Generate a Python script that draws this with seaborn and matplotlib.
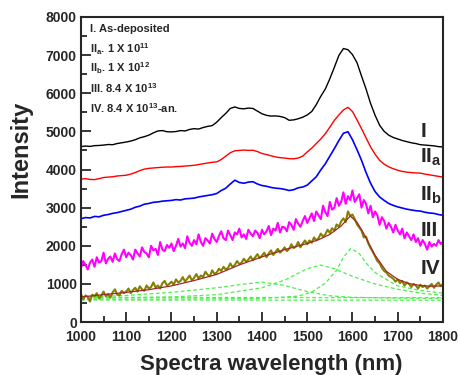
import numpy as np
import pandas as pd
import matplotlib
matplotlib.use("Agg")
import matplotlib.pyplot as plt
import seaborn as sns

# ── data ────────────────────────────────────────────────────────────────────
wl_10 = np.arange(1000, 1801, 10)   # 81 points
wl_5 = np.arange(1000, 1801, 5)     # 161 points

spec_I = [
    4600, 4615, 4605, 4625, 4630, 4640, 4655, 4650, 4680, 4700,
    4720, 4745, 4780, 4830, 4860, 4900, 4960, 5010, 5020, 4990,
    4985, 4995, 5020, 5010, 5050, 5070, 5060, 5100, 5130, 5150,
    5240, 5360, 5470, 5600, 5640, 5600, 5590, 5610, 5600, 5530,
    5460, 5420, 5400, 5405, 5390, 5360, 5290, 5300, 5330, 5370,
    5430, 5520, 5700, 5920, 6110, 6380, 6680, 6990, 7170, 7140,
    7010, 6800, 6450, 6110, 5730, 5420, 5160, 5000, 4900, 4840,
    4800, 4760, 4730, 4700, 4680, 4650, 4640, 4630, 4620, 4600,
    4590]

spec_IIa = [
    3750, 3760, 3740, 3735, 3760, 3790, 3800, 3810, 3830, 3840,
    3850, 3880, 3920, 3970, 4010, 4030, 4040, 4050, 4060, 4065,
    4065, 4075, 4080, 4090, 4100, 4110, 4130, 4150, 4170, 4190,
    4200, 4260, 4350, 4440, 4490, 4500, 4510, 4500, 4505, 4470,
    4420, 4390, 4360, 4330, 4310, 4300, 4285, 4280, 4300, 4350,
    4460, 4560, 4680, 4800, 4940, 5110, 5290, 5430, 5560, 5630,
    5520, 5300, 5070, 4830, 4590, 4400, 4240, 4140, 4070, 4020,
    3980, 3950, 3930, 3920, 3910, 3905, 3880, 3860, 3840, 3820,
    3800]

spec_IIb = [
    2710, 2740, 2730, 2770, 2760, 2800, 2820, 2850, 2870, 2900,
    2930, 2960, 3010, 3040, 3090, 3110, 3140, 3150, 3170, 3180,
    3190, 3210, 3200, 3230, 3240, 3250, 3280, 3300, 3320, 3340,
    3370, 3450, 3510, 3620, 3720, 3660, 3640, 3670, 3680, 3620,
    3580, 3560, 3530, 3510, 3500, 3480, 3450, 3470, 3520, 3540,
    3590, 3700, 3810, 3990, 4150, 4350, 4550, 4760, 4950, 4990,
    4780, 4520, 4240, 3920, 3640, 3420, 3280, 3190, 3110, 3060,
    3020, 2990, 2960, 2940, 2920, 2910, 2880, 2860, 2850, 2820,
    2800]

spec_III = [
    1420, 1600, 1500, 1380, 1560, 1640, 1450, 1700, 1560, 1600, 1820, 1540, 1660, 1720, 1580, 1800, 1650, 1600, 1780, 1900,
    1700, 1820, 1760, 1640, 1900, 1800, 1720, 1960, 1840, 1800, 1700, 2000, 1880, 1920, 1760, 2100, 1900, 1860, 2020, 1950,
    2060, 1860, 2000, 2180, 1980, 2060, 1940, 2250, 2080, 2000, 2150, 2040, 2300, 2100, 2000, 2200, 2140, 2060, 2320, 2180,
    2100, 2260, 2380, 2200, 2150, 2400, 2280, 2150, 2350, 2300, 2450, 2220, 2300, 2180, 2420, 2320, 2250, 2400, 2340, 2200,
    2420, 2300, 2380, 2520, 2280, 2450, 2400, 2600, 2350, 2500, 2480, 2380, 2620, 2550, 2420, 2700, 2580, 2500, 2650, 2780,
    2600, 2720, 2850, 2650, 2900, 2800, 2700, 3050, 2880, 2780, 3150, 2950, 3000, 3250, 3050, 3150, 3400, 3100, 3300, 3200,
    3450, 3150, 3250, 3350, 3000, 3200, 3100, 2850, 3050, 2750, 2900, 2800, 2550, 2750, 2650, 2450, 2600, 2500, 2350, 2550,
    2400, 2300, 2450, 2200, 2350, 2250, 2150, 2300, 2100, 2200, 2000, 2150, 2050, 1900, 2100, 1980, 2050, 2000, 2150, 2050,
    2100]

spec_IV = [
    740, 600, 700, 660, 540, 720, 680, 760, 620, 700, 800, 680, 740, 640, 780, 860, 720, 700, 820, 760,
    800, 880, 760, 840, 900, 800, 940, 860, 820, 960, 880, 920, 1040, 900, 960, 880, 1020, 1080, 960, 1000,
    1060, 980, 1120, 1040, 1080, 1180, 1060, 1140, 1220, 1100, 1160, 1260, 1140, 1220, 1180, 1320, 1240, 1200, 1360, 1260,
    1300, 1400, 1340, 1450, 1380, 1420, 1540, 1440, 1500, 1600, 1520, 1560, 1660, 1580, 1640, 1720, 1620, 1700, 1780, 1680,
    1740, 1820, 1700, 1800, 1880, 1760, 1840, 1920, 1820, 1880, 1960, 1860, 1920, 2040, 1940, 1980, 2100, 1960, 2060, 2140,
    2040, 2140, 2080, 2220, 2140, 2200, 2320, 2240, 2300, 2420, 2340, 2460, 2400, 2560, 2500, 2640, 2720, 2620, 2900, 2780,
    2820, 2700, 2560, 2480, 2400, 2220, 2240, 2060, 1940, 1840, 1720, 1600, 1540, 1420, 1340, 1300, 1220, 1180, 1140, 1060,
    1120, 1020, 1080, 960, 1040, 1000, 920, 1000, 960, 880, 980, 920, 960, 880, 940, 1000, 900, 980, 1040, 940,
    1000]

# smooth fit through spectrum IV
fit_x = [1000, 1050, 1100, 1150, 1200, 1250, 1300, 1350, 1400, 1450, 1500, 1525,
         1550, 1575, 1595, 1610, 1625, 1650, 1675, 1700, 1725, 1750, 1775, 1800]
fit_y = [660, 720, 780, 850, 950, 1090, 1250, 1500, 1710, 1900, 2060, 2160,
         2300, 2520, 2780, 2620, 2320, 1750, 1330, 1120, 1010, 960, 940, 950]

# deconvolved components (green dashed)
compA_x = [1000, 1200, 1400, 1480, 1510, 1540, 1565, 1580, 1596, 1615, 1630, 1650, 1670, 1700, 1750, 1800]
compA_y = [600, 605, 620, 680, 790, 1020, 1360, 1700, 1930, 1800, 1550, 1300, 1150, 950, 830, 760]
compB_x = [1000, 1200, 1300, 1400, 1450, 1500, 1530, 1560, 1600, 1650, 1700, 1750, 1800]
compB_y = [620, 660, 720, 900, 1100, 1400, 1495, 1400, 1200, 1000, 860, 760, 700]
compC_x = [1000, 1100, 1200, 1300, 1350, 1400, 1450, 1500, 1550, 1600, 1700, 1800]
compC_y = [650, 700, 780, 900, 980, 1050, 960, 800, 690, 650, 630, 620]
base1_x = [1000, 1400, 1800]
base1_y = [650, 645, 640]
base2_x = [1000, 1400, 1800]
base2_y = [580, 578, 575]

legend_lines = ["I. As-deposited",
                "II$_{a}$. 1 X 10$^{11}$",
                "II$_{b}$. 1 X 10$^{12}$",
                "III. 8.4 X 10$^{13}$",
                "IV. 8.4 X 10$^{13}$-an."]
curve_labels = ["I", "II$_{a}$", "II$_{b}$", "III", "IV"]
label_y = [5000, 4330, 3330, 2410, 1410]

# ── style ───────────────────────────────────────────────────────────────────
sns.set_style("ticks")
plt.rcParams["font.family"] = ["Liberation Sans", "DejaVu Sans"]
plt.rcParams["font.weight"] = "bold"
plt.rcParams["mathtext.fontset"] = "custom"
plt.rcParams["mathtext.rm"] = "Liberation Sans:bold"
plt.rcParams["mathtext.it"] = "Liberation Sans:bold"
plt.rcParams["mathtext.bf"] = "Liberation Sans:bold"

fig = plt.figure(figsize=(4.6, 3.75), dpi=100)
ax = fig.add_axes([0.176, 0.141, 0.787, 0.814])

green = "#4cf04c"
for cx, cy in [(compA_x, compA_y), (compB_x, compB_y), (compC_x, compC_y),
               (base1_x, base1_y), (base2_x, base2_y)]:
    sns.lineplot(x=cx, y=cy, ax=ax, color=green, lw=0.9, linestyle=(0, (3, 2)))

sns.lineplot(x=wl_10, y=spec_I, ax=ax, color="black", lw=1.0)
sns.lineplot(x=wl_10, y=spec_IIa, ax=ax, color="red", lw=1.0)
sns.lineplot(x=wl_10, y=spec_IIb, ax=ax, color="blue", lw=1.2)
sns.lineplot(x=wl_5, y=spec_III, ax=ax, color="magenta", lw=1.5)
sns.lineplot(x=wl_5, y=spec_IV, ax=ax, color="#858000", lw=1.5)
sns.lineplot(x=fit_x, y=fit_y, ax=ax, color="#a0282a", lw=0.9)

ax.set_xlim(1000, 1800)
ax.set_ylim(0, 8000)
ax.set_xticks(range(1000, 1801, 100))
ax.set_xticks(range(1050, 1800, 100), minor=True)
ax.set_yticks(range(0, 8001, 1000))
ax.set_yticks(range(500, 8000, 1000), minor=True)
ax.tick_params(which="major", direction="in", length=7, width=1.3,
               labelsize=10, pad=3)
ax.tick_params(axis="x", which="major", pad=6)
ax.tick_params(which="minor", direction="in", length=4, width=1.3)
for lab in ax.get_xticklabels() + ax.get_yticklabels():
    lab.set_fontweight("bold")
for sp in ax.spines.values():
    sp.set_linewidth(1.5)
    sp.set_visible(True)

ax.set_xlabel("Spectra wavelength (nm)", fontsize=16, fontweight="bold")
ax.set_ylabel("Intensity", fontsize=17, fontweight="bold")
ax.xaxis.set_label_coords(0.525, -0.105)
ax.yaxis.set_label_coords(-0.135, 0.567)

for i, txt in enumerate(legend_lines):
    ax.text(1021, 7680 - i * 515, txt, fontsize=8, fontweight="bold",
            va="center", ha="left")

for txt, yy in zip(curve_labels, label_y):
    ax.text(1750, yy, txt, fontsize=15, fontweight="bold", va="center", ha="left")

fig.savefig("out.png", dpi=100)
